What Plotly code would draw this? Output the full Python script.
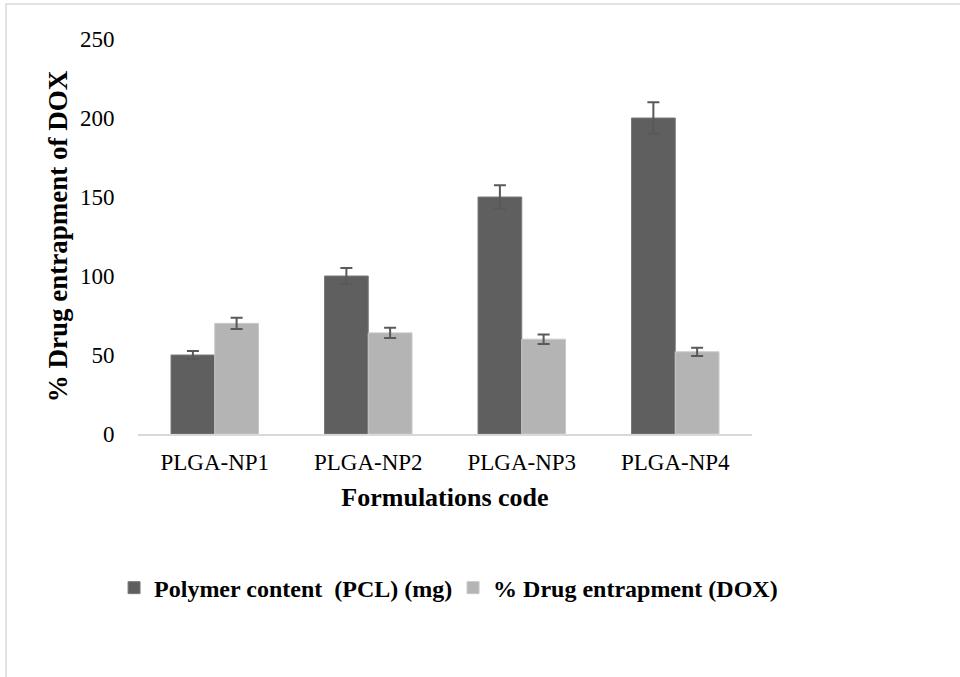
import plotly.graph_objects as go

# data
formulations = ["PLGA-NP1", "PLGA-NP2", "PLGA-NP3", "PLGA-NP4"]
polymer_content = [50, 100, 150, 200]
polymer_err = [2.5, 5, 7.5, 10]
drug_entrapment = [70, 64, 60, 52]
drug_err = [3.5, 3.2, 3, 2.6]
y_ticks = [0, 50, 100, 150, 200, 250]

serif = "Liberation Serif, Times New Roman, serif"
err_color = "#595959"

fig = go.Figure()

fig.add_trace(
    go.Bar(
        x=formulations,
        y=polymer_content,
        name="Polymer content  (PCL) (mg)",
        marker=dict(color="#5f5f5f", line=dict(color="#7a7a7a", width=1)),
        error_y=dict(type="data", array=polymer_err, color=err_color,
                     thickness=2, width=6),
    )
)

fig.add_trace(
    go.Bar(
        x=formulations,
        y=drug_entrapment,
        name="% Drug entrapment (DOX)",
        marker=dict(color="#b4b4b4", line=dict(color="#c8c8c8", width=1)),
        error_y=dict(type="data", array=drug_err, color=err_color,
                     thickness=2, width=6),
    )
)

# light frame around the chart area (as in the reference image)
fig.add_shape(
    type="rect", xref="paper", yref="paper",
    x0=-0.215, x1=1.4, y0=-0.7, y1=1.0886,
    line=dict(color="#d9d9d9", width=1.5), fillcolor="rgba(0,0,0,0)",
    layer="below",
)

fig.update_layout(
    width=960,
    height=677,
    margin=dict(l=138, r=208, t=39, b=243),
    paper_bgcolor="white",
    plot_bgcolor="white",
    barmode="group",
    bargap=0.43,
    bargroupgap=0,
    font=dict(family=serif, color="#000000", size=23),
    showlegend=True,
    legend=dict(
        orientation="h",
        x=-0.039, xanchor="left",
        y=-0.39, yanchor="middle",
        font=dict(family=serif, size=24, color="#000000", weight="bold"),
        itemwidth=30,
        entrywidth=294,
        traceorder="normal",
    ),
    xaxis=dict(
        showline=True,
        linecolor="#d9d9d9",
        linewidth=2,
        showgrid=False,
        ticks="outside",
        ticklen=6,
        tickcolor="rgba(0,0,0,0)",
        tickfont=dict(family=serif, size=23, color="#000000"),
        title=dict(text="<b>Formulations code</b>", standoff=14,
                   font=dict(family=serif, size=26, color="#000000")),
    ),
    yaxis=dict(
        range=[0, 250],
        tickvals=y_ticks,
        showline=False,
        showgrid=False,
        zeroline=False,
        ticks="outside",
        ticklen=18,
        tickcolor="rgba(0,0,0,0)",
        tickfont=dict(family=serif, size=23, color="#000000"),
        title=dict(text="<b>% Drug entrapment of DOX</b>", standoff=4,
                   font=dict(family=serif, size=27, color="#000000")),
    ),
)

fig.write_html(
    "out.html",
    config={"displayModeBar": False},
    post_script="document.body.style.margin='0';",
)
